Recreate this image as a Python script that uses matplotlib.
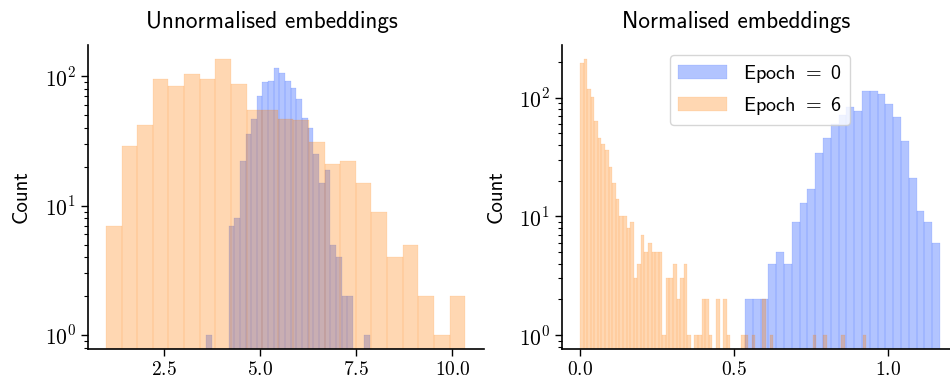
import numpy as np
import matplotlib
matplotlib.use('Agg')
import matplotlib.pyplot as plt
from matplotlib.ticker import FuncFormatter, MultipleLocator, NullFormatter

plt.rcParams['mathtext.fontset'] = 'cm'
plt.rcParams['font.family'] = ['cmss10', 'DejaVu Sans']
plt.rcParams['axes.unicode_minus'] = False

# histogram data: (first edge, last edge) and counts per bin
unnorm_e0_range = (3.598, 7.854)
unnorm_e0_counts = [1, 0, 0, 0, 7, 8, 22, 36, 47, 70, 91, 93, 117, 107, 93,
                    82, 67, 48, 40, 25, 15, 19, 5, 4, 2, 2, 0, 0, 1]
unnorm_e6_range = (1.0, 10.33)
unnorm_e6_counts = [7, 29, 42, 96, 85, 105, 96, 137, 88, 55, 55, 47, 46, 31,
                    21, 22, 15, 9, 4, 5, 2, 1, 2]

norm_e0_range = (0.536, 1.170)
norm_e0_counts = [2, 2, 2, 4, 5, 4, 9, 13, 17, 34, 46, 60, 72, 83, 77, 114,
                  114, 107, 88, 69, 43, 21, 11, 9, 6]
norm_e6_range = (0.0, 0.930)
norm_e6_counts = [197, 211, 118, 101, 64, 46, 41, 36, 26, 19, 14, 10, 10, 8, 9,
                  3, 4, 7, 5, 6, 5, 5, 5, 1, 3, 3, 4, 2, 3, 4,
                  1, 0, 1, 1, 2, 2, 1, 0, 2, 0, 2, 1, 0, 0, 0,
                  1, 1, 0, 1, 0, 0, 2, 0, 1, 0, 0, 0, 0, 0, 0,
                  0, 0, 0, 0, 0, 1, 0, 0, 1, 0, 0, 0, 0, 1, 0,
                  0, 0, 0, 0, 1]

labels = ['Epoch $=$ 0', 'Epoch $=$ 6']
titles = ['Unnormalised embeddings', 'Normalised embeddings']
blue = '#023eff'
orange = '#ff7c00'


def draw_hist(ax, rng, counts, color, label):
    edges = np.linspace(rng[0], rng[1], len(counts) + 1)
    mids = (edges[:-1] + edges[1:]) / 2
    ax.hist(mids, bins=edges, weights=counts, color=color, alpha=0.3,
            edgecolor=color, linewidth=0.25, label=label)


fig = plt.figure(figsize=(9.5, 3.83), dpi=100)
ax1 = fig.add_axes([88 / 950, 34 / 383, 396 / 950, 304 / 383])
ax2 = fig.add_axes([562 / 950, 34 / 383, 396 / 950, 304 / 383])

draw_hist(ax1, unnorm_e0_range, unnorm_e0_counts, blue, labels[0])
draw_hist(ax1, unnorm_e6_range, unnorm_e6_counts, orange, labels[1])
draw_hist(ax2, norm_e0_range, norm_e0_counts, blue, labels[0])
draw_hist(ax2, norm_e6_range, norm_e6_counts, orange, labels[1])

# titles sit a little left of the axes centre in the original
for ax, title, tx, lp in zip([ax1, ax2], titles, [0.465, 0.439], [10.5, 9.5]):
    ax.set_yscale('log')
    ax.set_title(title, fontsize=16.7, x=tx, pad=12)
    ax.set_ylabel('Count', fontsize=15, labelpad=lp)
    ax.spines['top'].set_visible(False)
    ax.spines['right'].set_visible(False)
    for s in ['left', 'bottom']:
        ax.spines[s].set_linewidth(1.2)
    ax.tick_params(which='major', length=5, width=1, labelsize=14)
    ax.tick_params(axis='y', which='major', labelsize=15.5)
    ax.tick_params(which='minor', length=3, width=0.8)
    ax.yaxis.set_major_formatter(
        FuncFormatter(lambda v, p: '$10^{%d}$' % int(round(np.log10(v)))))
    ax.yaxis.set_minor_formatter(NullFormatter())
    ax.xaxis.set_major_formatter(FuncFormatter(lambda v, p: '$%.1f$' % v))

ax1.xaxis.set_major_locator(MultipleLocator(2.5))
ax2.xaxis.set_major_locator(MultipleLocator(0.5))
ax1.set_xlim(0.533, 10.82)
ax2.set_xlim(-0.0585, 1.2285)
ax1.set_ylim(0.78, 175)
ax2.set_ylim(0.765, 277)

ax2.legend(loc='upper center', fontsize=14.5, handlelength=2.4)

fig.savefig('out.png', dpi=100)
